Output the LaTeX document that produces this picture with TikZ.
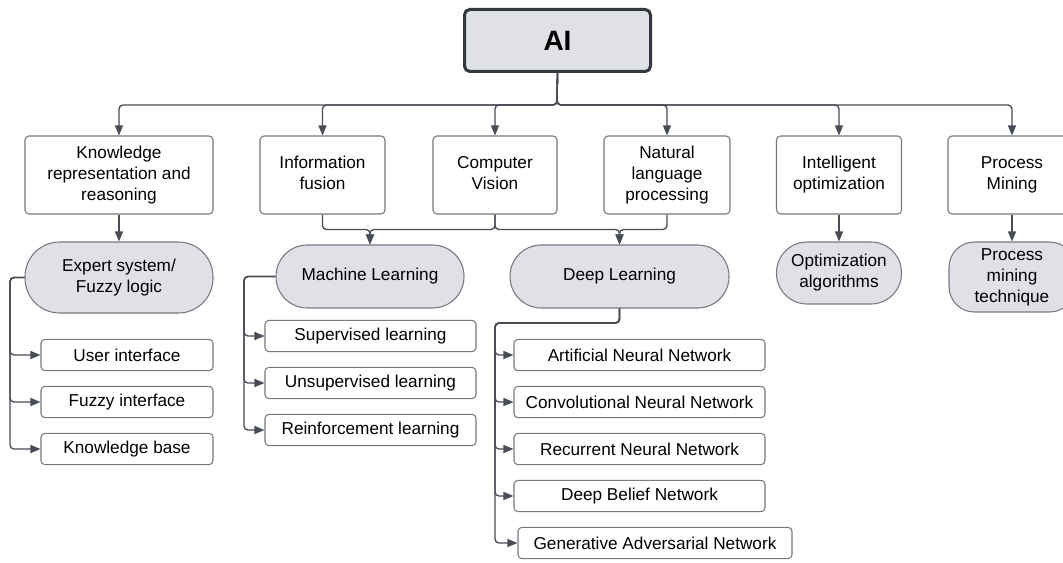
\documentclass[tikz,border=0pt]{standalone}
\usepackage{fontspec}
\setmainfont{Liberation Sans}
\usetikzlibrary{arrows.meta}
\definecolor{lineclr}{HTML}{474C55}
\definecolor{boxclr}{HTML}{767980}
\definecolor{ovalfill}{HTML}{DFE1E6}
\definecolor{aiclr}{HTML}{33373E}
\tikzset{
  box/.style={draw=boxclr, line width=0.8pt, fill=white, rounded corners=3pt, inner sep=0pt, font=\fontsize{12.9}{15.75}\selectfont},
  pill/.style={draw=boxclr, line width=0.8pt, fill=ovalfill, rounded corners=#1, inner sep=0pt, font=\fontsize{12.9}{15.75}\selectfont},
  pill/.default=23pt,
  arr/.style={-{Triangle[length=7.5pt,width=6pt]}, draw=lineclr, line width=1pt, rounded corners=3pt},
}

\begin{document}
\begin{tikzpicture}[x=0.75pt, y=-0.75pt]
        \path[use as bounding box, fill=white] (0,0) rectangle (1063,563);
        \clip (0,0) rectangle (1063,563);

        % root
        \node[draw=aiclr, line width=2.25pt, fill=ovalfill, rounded corners=4pt, minimum width=139.5pt, minimum height=46.5pt, font=\bfseries\fontsize{21}{25}\selectfont] (ai) at (557.5,40.5) {AI};

        % fields
        \node[box, minimum width=141pt, minimum height=58.5pt] (kr) at (119,175) {\begin{tabular}{c}Knowledge\\ representation and\\ reasoning\end{tabular}};
        \node[box, minimum width=93.75pt, minimum height=58.5pt] (infus) at (322.5,175) {\begin{tabular}{c}Information\\ fusion\end{tabular}};
        \node[box, minimum width=93pt, minimum height=58.5pt] (cv) at (495,175) {\begin{tabular}{c}Computer\\ Vision\end{tabular}};
        \node[box, minimum width=94.5pt, minimum height=58.5pt] (nlp) at (667,175) {\begin{tabular}{c}Natural\\ language\\ processing\end{tabular}};
        \node[box, minimum width=93.75pt, minimum height=58.5pt] (io) at (839,175) {\begin{tabular}{c}Intelligent\\ optimization\end{tabular}};
        \node[box, minimum width=96pt, minimum height=58.5pt] (pm) at (1012,175) {\begin{tabular}{c}Process\\ Mining\end{tabular}};

        % methods
        \node[pill=26pt, minimum width=141pt, minimum height=53.25pt] (expert) at (119,277.5) {\begin{tabular}{c}Expert system/\\ Fuzzy logic\end{tabular}};
        \node[pill=23.5pt, minimum width=141pt, minimum height=47.25pt] (ml) at (370,276.5) {Machine Learning};
        \node[pill=23.5pt, minimum width=164.25pt, minimum height=47.25pt] (dl) at (619.5,276.5) {Deep Learning};
        \node[pill=23pt, minimum width=93.75pt, minimum height=46.5pt] (opt) at (839,273) {\begin{tabular}{c}Optimization\\ algorithms\end{tabular}};
        \node[pill=19pt, minimum width=94.5pt, minimum height=52.5pt] (pmt) at (1012,277) {\begin{tabular}{c}Process\\ mining\\ technique\end{tabular}};

        % expert system parts
        \node[box, minimum width=129pt, minimum height=23.5pt] (ui) at (127,355) {User interface};
        \node[box, minimum width=129pt, minimum height=23.5pt] (fi) at (127,402) {Fuzzy interface};
        \node[box, minimum width=129pt, minimum height=23.5pt] (kb) at (127,449) {Knowledge base};

        % machine learning kinds
        \node[box, minimum width=158.25pt, minimum height=23.5pt] (sl) at (370.5,336) {Supervised learning};
        \node[box, minimum width=158.25pt, minimum height=23.5pt] (ul) at (370.5,383) {Unsupervised learning};
        \node[box, minimum width=158.25pt, minimum height=23.5pt] (rl) at (370.5,430) {Reinforcement learning};

        % deep learning networks
        \node[box, minimum width=188.25pt, minimum height=23.5pt] (ann) at (639.5,355) {Artificial Neural Network};
        \node[box, minimum width=188.25pt, minimum height=23.5pt] (cnn) at (639.5,402) {Convolutional Neural Network};
        \node[box, minimum width=188.25pt, minimum height=23.5pt] (rnn) at (639.5,449) {Recurrent Neural Network};
        \node[box, minimum width=188.25pt, minimum height=23.5pt] (dbn) at (639.5,496) {Deep Belief Network};
        \node[box, minimum width=205.5pt, minimum height=23.5pt] (gan) at (655,543) {Generative Adversarial Network};

        % tree from the root
        \coordinate (hub) at (557,105);
        \draw[arr] (ai.south) -- (hub) -| (kr.north);
        \draw[arr] (ai.south) -- (hub) -| (infus.north);
        \draw[arr] (ai.south) -- (hub) -| (cv.north);
        \draw[arr] (ai.south) -- (hub) -| (nlp.north);
        \draw[arr] (ai.south) -- (hub) -| (io.north);
        \draw[arr] (ai.south) -- (hub) -| (pm.north);

        \draw[arr] (kr) -- (expert);
        \draw[arr] (infus.south) -- ++(0,15) -| (ml.north);
        \draw[arr] (cv.south) -- ++(0,15) -| (ml.north);
        \draw[arr] (cv.south) -- ++(0,15) -| (dl.north);
        \draw[arr] (nlp.south) -- ++(0,15) -| (dl.north);
        \draw[arr] (io) -- (opt);
        \draw[arr] (pm) -- (pmt);

        % side rails
        \coordinate (krrail) at (10,277.5);
        \draw[arr] (expert.west) -- (krrail) |- (ui.west);
        \draw[arr] (expert.west) -- (krrail) |- (fi.west);
        \draw[arr] (expert.west) -- (krrail) |- (kb.west);

        \coordinate (mlrail) at (244,276.5);
        \draw[arr] (ml.west) -- (mlrail) |- (sl.west);
        \draw[arr] (ml.west) -- (mlrail) |- (ul.west);
        \draw[arr] (ml.west) -- (mlrail) |- (rl.west);

        \coordinate (dlrail) at (495,323);
        \draw[arr] (dl.south) |- (dlrail) |- (ann.west);
        \draw[arr] (dl.south) |- (dlrail) |- (cnn.west);
        \draw[arr] (dl.south) |- (dlrail) |- (rnn.west);
        \draw[arr] (dl.south) |- (dlrail) |- (dbn.west);
        \draw[arr] (dl.south) |- (dlrail) |- (gan.west);
\end{tikzpicture}
\end{document}
